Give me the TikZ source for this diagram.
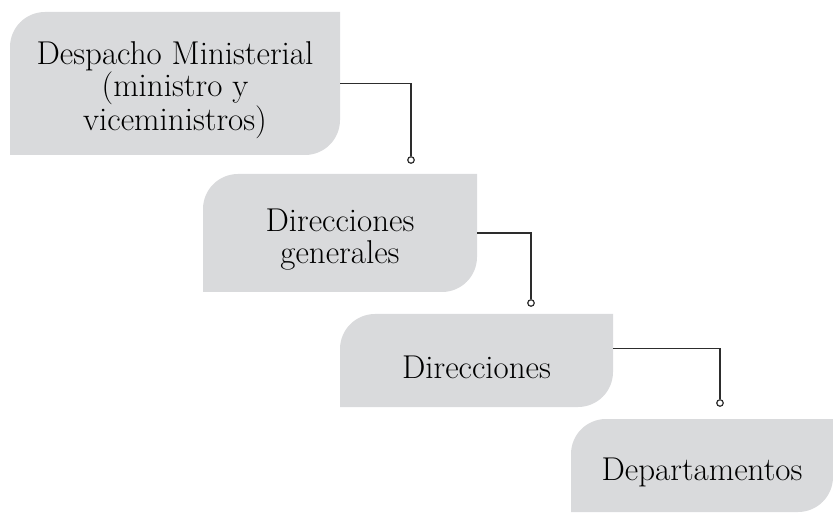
\documentclass[tikz,border=0pt]{standalone}
\usepackage{fontspec}
\usepackage{xcolor}
\usepackage{tikz}
\usetikzlibrary{positioning,backgrounds}

\definecolor{boxgray}{RGB}{217,218,220}
\definecolor{linegray}{RGB}{45,45,45}
\newcommand{\toplift}{\rule{0pt}{36pt}}

\begin{document}
\begin{tikzpicture}[x=1pt, y=1pt,
  level/.style={align=center, inner sep=0pt, outer sep=0pt, font=\fontsize{33}{32.5}\selectfont},
  conn/.style={draw=linegray, line width=1.4pt},
  knob/.style={circle, draw=linegray, fill=white, line width=1.2pt, inner sep=0pt, minimum size=6.5pt}]
\useasboundingbox (0,0) rectangle (833,528);
\node[level, minimum width=330pt, minimum height=143pt] (dm) at (175,444.5) {\toplift Despacho Ministerial\\(ministro y\\viceministros)};
\node[level, minimum width=274pt, minimum height=118pt] (dg) at (340,295) {\toplift Direcciones\\generales};
\node[level, minimum width=273pt, minimum height=93pt] (di) at (476.5,167.5) {\toplift Direcciones};
\node[level, minimum width=262pt, minimum height=93pt] (dp) at (702,62.5) {\toplift Departamentos};
% connectors
\node[knob] (k1) at (411,368) {};
\node[knob] (k2) at (531,225) {};
\node[knob] (k3) at (720,125) {};
\draw[conn] (dm.east) -| (k1.north);
\draw[conn] (dg.east) -| (k2.north);
\draw[conn] ([yshift=12pt]di.east) -| (k3.north);
\begin{scope}[on background layer]
\foreach \n in {dm,dg,di,dp}
  \fill[boxgray] (\n.south west) -- ([yshift=-35pt]\n.north west) arc[start angle=180, end angle=90, radius=35pt]
    -- (\n.north east) -- ([yshift=35pt]\n.south east) arc[start angle=0, end angle=-90, radius=35pt] -- cycle;
\end{scope}
\end{tikzpicture}
\end{document}
